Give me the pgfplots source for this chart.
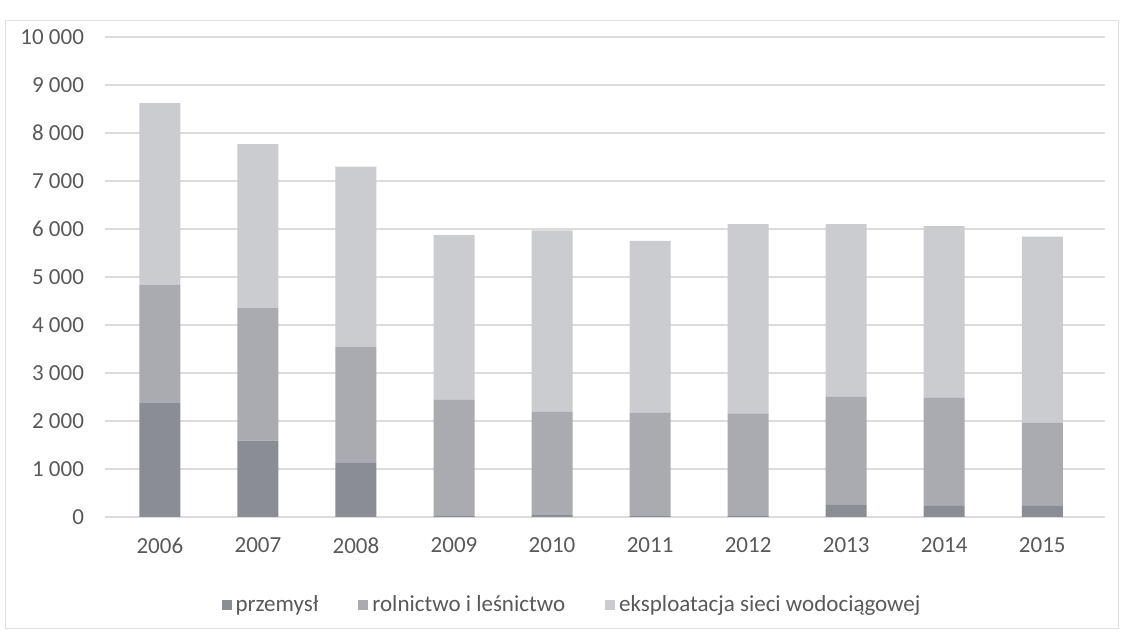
\documentclass[border=0pt]{standalone}
\usepackage{pgfplots}
\pgfplotsset{compat=1.18}
\usepackage{fontspec}
\setmainfont{Carlito}
\definecolor{cP}{HTML}{8A8D94}
\definecolor{cR}{HTML}{A9ABB1}
\definecolor{cE}{HTML}{CACCD0}
\definecolor{txtc}{HTML}{595959}
\definecolor{gridc}{HTML}{DCDCDC}
\begin{document}
\begin{tikzpicture}
\path[use as bounding box] (-52.5pt,-57pt) rectangle (509.5pt,258.5pt);
\draw[black!12] (-50pt,-55.5pt) rectangle (506.5pt,248.5pt);
\begin{axis}[
  at={(0pt,0pt)}, anchor=south west,
  scale only axis, width=500pt, height=240pt,
  ybar stacked, bar width=20.5pt,
  xmin=-0.56, xmax=9.64, ymin=0, ymax=10000,
  xtick={0,...,9},
  xticklabels={2006,2007,2008,2009,2010,2011,2012,2013,2014,2015},
  ytick={0,1000,...,10000},
  yticklabels={0,1 000,2 000,3 000,4 000,5 000,6 000,7 000,8 000,9 000,10 000},
  scaled y ticks=false,
  xmajorgrids=false, ymajorgrids=true,
  major grid style={draw=gridc, line width=0.6pt},
  axis line style={draw=none},
  major tick length=0pt,
  tick label style={font=\fontsize{11.5}{13}\selectfont, text=txtc},
  yticklabel style={xshift=-7pt},
  xticklabel style={yshift=-7pt},
  legend columns=-1,
  legend style={draw=none, fill=none, at={(0.468,-0.183)}, anchor=center,
    font=\fontsize{11.5}{13}\selectfont, text=txtc,
    /tikz/every even column/.append style={column sep=18pt}},
  legend image code/.code={\fill[#1] (0pt,-2.5pt) rectangle (5pt,2.5pt);},
]
\addplot[fill=cP, draw=none] coordinates {(0,2390) (1,1590) (2,1120) (3,20) (4,40) (5,20) (6,20) (7,250) (8,230) (9,230)};
\addplot[fill=cR, draw=none] coordinates {(0,2450) (1,2770) (2,2430) (3,2420) (4,2150) (5,2150) (6,2130) (7,2250) (8,2250) (9,1730)};
\addplot[fill=cE, draw=none] coordinates {(0,3780) (1,3410) (2,3750) (3,3430) (4,3780) (5,3580) (6,3950) (7,3600) (8,3580) (9,3880)};
\legend{przemysł, rolnictwo i leśnictwo, eksploatacja sieci wodociągowej}
\end{axis}
\end{tikzpicture}
\end{document}
